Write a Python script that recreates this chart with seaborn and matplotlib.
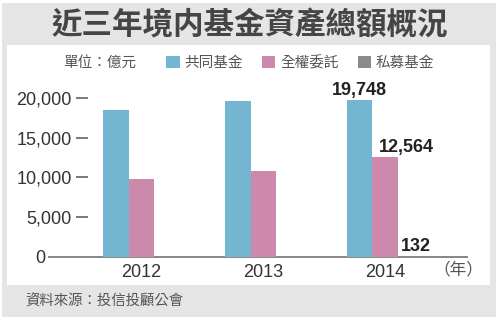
import matplotlib
matplotlib.use("Agg")
import matplotlib.pyplot as plt
from matplotlib.patches import Rectangle
import seaborn as sns
import pandas as pd

# Fund assets by year (unit: 億元)
years = ["2012", "2013", "2014"]
series = ["共同基金", "全權委託", "私募基金"]
mutual_funds = [18400, 19550, 19748]
discretionary = [9800, 10750, 12564]
private_funds = [100, 110, 132]
ytick_values = [0, 5000, 10000, 15000, 20000]
ytick_labels = ["0", "5,000", "10,000", "15,000", "20,000"]
colors = ["#74b5d2", "#cc89ab", "#8a8a8a"]

df = pd.DataFrame({
    "year": years * 3,
    "type": [s for s in series for _ in years],
    "value": mutual_funds + discretionary + private_funds,
})

sns.set_theme(style="white")
plt.rcParams["font.family"] = ["Liberation Sans", "Noto Sans CJK TC", "DejaVu Sans"]
cjk = ["Noto Sans CJK TC", "DejaVu Sans"]

fig = plt.figure(figsize=(5, 3.22), dpi=100)
fig.patch.set_facecolor("white")

# grey frame with a white chart panel inside
fig.add_artist(Rectangle((0.004, 0.0155), 0.988, 0.9752, transform=fig.transFigure,
                         facecolor="#e5e5e5", edgecolor="none", zorder=-2))
fig.add_artist(Rectangle((0.014, 0.115), 0.966, 0.745, transform=fig.transFigure,
                         facecolor="white", edgecolor="none", zorder=-1))

ax = fig.add_axes([0.176, 0.2019, 0.76, 0.565])
ax.set_facecolor("none")

sns.barplot(data=df, x="year", y="value", hue="type", order=years, hue_order=series,
            palette=colors, width=0.633, saturation=1, linewidth=0, ax=ax)

ax.set_xlim(-0.439, 2.678)
ax.set_ylim(0, 22840)
ax.set_xlabel("")
ax.set_ylabel("")
sns.despine(ax=ax, left=True, bottom=True)

ax.set_yticks(ytick_values, ytick_labels)
ax.tick_params(axis="y", left=True, length=8.64, width=1.1, color="#555555",
               pad=2.9, labelsize=13, labelcolor="#333333")
ax.tick_params(axis="x", bottom=False, length=0, pad=5, labelsize=13, labelcolor="#333333")

# the zero tick is covered by the long baseline
zero_tick = ax.yaxis.get_major_ticks()[0]
zero_tick.tick1line.set_visible(False)
zero_tick.set_pad(22.3)

# baseline sits beneath the bars so the thin private-fund bars stay visible
ax.plot([-0.105, 1.0], [0, 0], transform=ax.get_yaxis_transform(), color="#666666",
        lw=1.1, clip_on=False, solid_capstyle="butt", zorder=0.5)

# value labels for 2014
latest = len(years) - 1
label_offsets = [0, 15, 3.6]
for j, (vals, dx) in enumerate(zip([mutual_funds, discretionary, private_funds], label_offsets)):
    bar = ax.containers[j][latest]
    cx = bar.get_x() + bar.get_width() / 2
    ax.annotate(f"{vals[latest]:,}", xy=(cx, vals[latest]), xytext=(dx, 3.2),
                textcoords="offset points", ha="center", va="baseline",
                fontsize=13, fontweight="bold", color="#222222")

handles, labels = ax.get_legend_handles_labels()
ax.get_legend().remove()
fig.legend(handles, labels, loc="center", bbox_to_anchor=(0.601, 0.804), ncol=3,
           frameon=False, prop={"family": cjk, "size": 10.5}, labelcolor="#555555",
           handlelength=0.9, handleheight=0.9, handletextpad=0.35, columnspacing=1.3,
           borderpad=0, borderaxespad=0)

fig.text(0.5, 0.921, "近三年境内基金資產總額概況", ha="center", va="center",
         fontsize=22, fontweight="bold", color="#454545", family=cjk)
fig.text(0.126, 0.804, "單位：億元", ha="left", va="center", fontsize=10.5,
         color="#555555", family=cjk)
fig.text(0.916, 0.1615, "（年）", ha="center", va="center", fontsize=12,
         color="#555555", family=cjk)
fig.text(0.05, 0.062, "資料來源：投信投顧公會", ha="left", va="center", fontsize=10.4,
         color="#555555", family=cjk)

fig.savefig("out.png", dpi=100)
